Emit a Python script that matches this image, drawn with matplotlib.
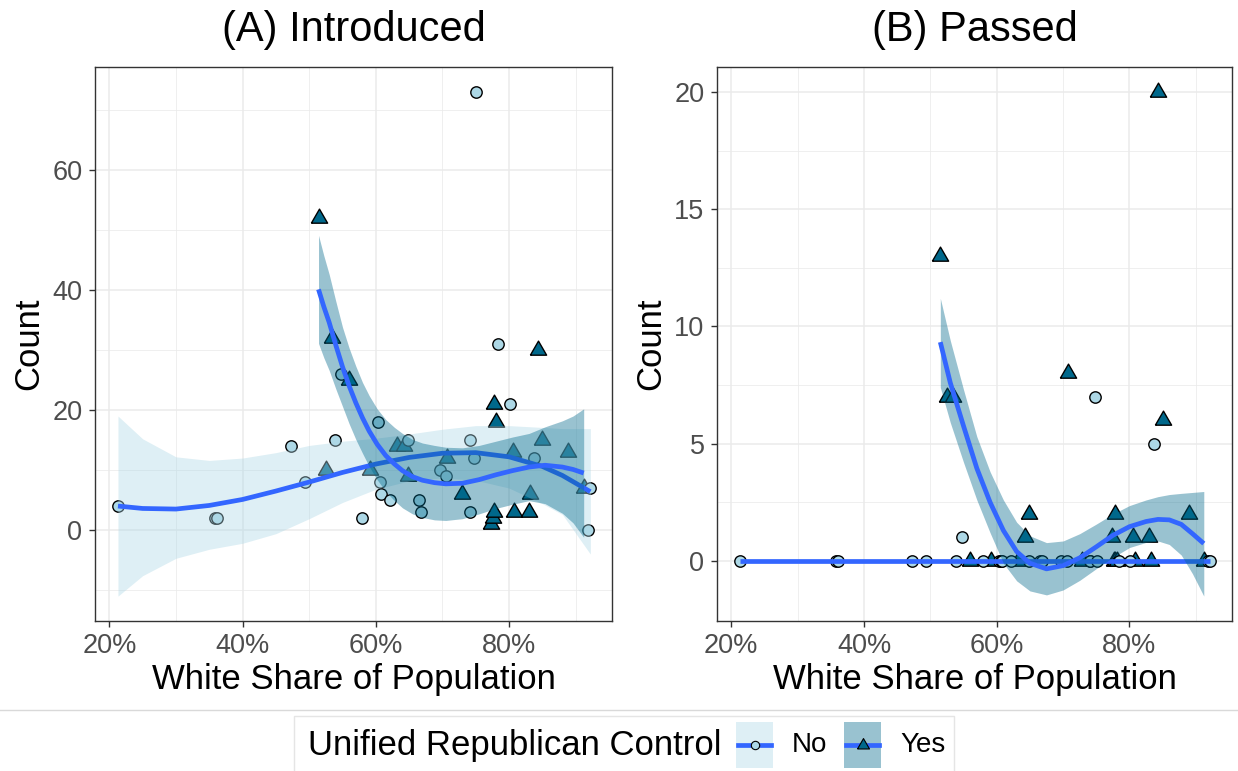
import math
import matplotlib.pyplot as plt
from matplotlib.patches import Rectangle
from matplotlib.ticker import FuncFormatter, FixedLocator

plt.rcParams['font.family'] = ['Liberation Sans', 'DejaVu Sans']

# White share of population (%) per state, split by unified Republican control
no_white = [21.3, 35.8, 36.1, 47.2, 49.4, 53.8, 54.7, 57.9, 60.3, 60.6, 60.8, 62.1, 64.9,
            66.5, 66.8, 69.7, 70.6, 74.1, 74.1, 74.8, 75.1, 78.4, 80.1, 83.7, 91.9, 92.2]
no_introduced = [4, 2, 2, 14, 8, 15, 26, 2, 18, 8, 6, 5, 15,
                 5, 3, 10, 9, 15, 3, 12, 73, 31, 21, 12, 0, 7]
no_passed = [0, 0, 0, 0, 0, 0, 1, 0, 0, 0, 0, 0, 0,
             0, 0, 0, 0, 0, 0, 7, 0, 0, 0, 5, 0, 0]

yes_white = [51.4, 52.5, 53.4, 56.0, 59.1, 63.2, 64.2, 64.8, 70.7, 72.9, 77.3, 77.6,
             77.8, 77.8, 78.1, 80.6, 80.8, 83.0, 83.2, 84.3, 85.0, 88.9, 91.2]
yes_introduced = [52, 10, 32, 25, 10, 14, 14, 9, 12, 6, 1, 2,
                  3, 21, 18, 13, 3, 3, 6, 30, 15, 13, 7]
yes_passed = [13, 7, 7, 0, 0, 0, 1, 2, 8, 0, 1, 0,
              0, 2, 0, 1, 0, 1, 0, 20, 6, 2, 0]

# Fitted trends with 95% bands: (A) Introduced
intro_no_x = [21.3, 25, 30, 35, 40, 45, 50, 55, 60, 65, 70, 75, 80, 85, 88, 92.2]
intro_no_fit = [4.0, 3.6, 3.5, 4.1, 5.1, 6.5, 8.0, 9.6, 11.0, 12.1, 12.8, 12.9, 12.2, 10.6, 9.1, 6.4]
intro_no_lo = [-11.0, -7.6, -4.7, -3.2, -2.2, -0.6, 1.9, 4.6, 6.8, 8.2, 8.7, 8.3, 7.0, 4.4, 2.6, -4.0]
intro_no_hi = [19.0, 15.2, 12.2, 11.6, 12.0, 12.9, 14.1, 14.8, 15.3, 16.0, 16.8, 17.4, 17.4, 17.1, 16.9, 16.9]

intro_yes_x = [51.4, 52.2, 53.0, 54.0, 55.0, 56.0, 57.0, 58.0, 59.0, 60.2, 61.5, 62.8, 64.0,
               65.5, 67.0, 68.8, 70.5, 73.0, 75.5, 78.0, 80.5, 83.0, 85.4, 88.0, 89.6, 91.2]
intro_yes_fit = [40.1, 37.2, 34.6, 30.8, 27.2, 24.0, 21.2, 18.7, 16.5, 14.3, 12.4, 11.0, 9.9,
                 8.9, 8.3, 7.9, 7.7, 7.8, 8.4, 9.2, 9.9, 10.5, 10.8, 10.5, 10.1, 9.5]
intro_yes_lo = [31.1, 28.7, 26.6, 23.5, 20.6, 17.7, 15.1, 12.8, 10.6, 8.4, 6.4, 4.9, 3.7,
                2.7, 2.1, 1.7, 1.6, 1.9, 2.7, 3.6, 4.3, 4.9, 4.4, 2.8, 1.2, -1.2]
intro_yes_hi = [49.1, 45.7, 42.6, 38.1, 33.8, 30.3, 27.3, 24.6, 22.4, 20.2, 18.4, 17.1, 16.1,
                15.1, 14.5, 14.1, 13.8, 13.7, 14.1, 14.8, 15.5, 16.1, 17.2, 18.2, 19.0, 20.2]

# Fitted trends with 95% bands: (B) Passed
passed_no_x = [21.3, 92.2]
passed_no_fit = [0.0, 0.0]
passed_no_lo = [0.0, 0.0]
passed_no_hi = [0.0, 0.0]

passed_yes_x = [51.5, 53.0, 55.0, 57.0, 59.0, 61.0, 63.0, 65.0, 67.5, 70.0, 72.5, 75.0,
                77.5, 80.0, 82.5, 84.3, 86.0, 87.8, 89.5, 91.2]
passed_yes_fit = [9.33, 7.6, 5.75, 3.95, 2.5, 1.3, 0.4, -0.1, -0.34, -0.2, 0.13, 0.6,
                  1.09, 1.46, 1.68, 1.77, 1.75, 1.56, 1.16, 0.74]
passed_yes_lo = [7.4, 5.9, 4.2, 2.6, 1.2, -0.1, -0.85, -1.28, -1.45, -1.24, -0.83, -0.33,
                 0.15, 0.57, 0.79, 0.85, 0.7, 0.25, -0.55, -1.5]
passed_yes_hi = [11.2, 9.4, 7.3, 5.3, 3.8, 2.6, 1.65, 1.07, 0.78, 0.85, 1.16, 1.57,
                 2.0, 2.36, 2.6, 2.74, 2.83, 2.88, 2.92, 2.96]

groups = ['No', 'Yes']
panel_titles = ['(A) Introduced', '(B) Passed']

point_fill = {'No': '#ADD8E6', 'Yes': '#00688B'}
band_color = {'No': '#ADD8E6', 'Yes': '#00688B'}
smooth_color = '#3366FF'


def triangle_marker():
    h = math.sqrt(3) / 3
    return [(-1, -h), (1, -h), (0, 2 * h), (-1, -h)]


W, H = 1238, 771
fig = plt.figure(figsize=(W / 100, H / 100), dpi=100)

panels = [
    {'title': panel_titles[0],
     'points': {'No': (no_white, no_introduced), 'Yes': (yes_white, yes_introduced)},
     'trend': {'No': (intro_no_x, intro_no_fit, intro_no_lo, intro_no_hi),
               'Yes': (intro_yes_x, intro_yes_fit, intro_yes_lo, intro_yes_hi)},
     'ylim': (-15.1, 77.1), 'major': [0, 20, 40, 60], 'minor': [-10, 10, 30, 50, 70],
     'rect': [95, 612]},
    {'title': panel_titles[1],
     'points': {'No': (no_white, no_passed), 'Yes': (yes_white, yes_passed)},
     'trend': {'No': (passed_no_x, passed_no_fit, passed_no_lo, passed_no_hi),
               'Yes': (passed_yes_x, passed_yes_fit, passed_yes_lo, passed_yes_hi)},
     'ylim': (-2.55, 21.05), 'major': [0, 5, 10, 15, 20], 'minor': [2.5, 7.5, 12.5, 17.5],
     'rect': [717, 1232]},
]

top_px, bottom_px = 67.3, 620.7
tri = triangle_marker()

for p in panels:
    x0, x1 = p['rect']
    ax = fig.add_axes([x0 / W, 1 - bottom_px / H, (x1 - x0) / W, (bottom_px - top_px) / H])
    ax.set_xlim(17.85, 95.45)
    ax.set_ylim(*p['ylim'])

    ax.xaxis.set_major_locator(FixedLocator([20, 40, 60, 80]))
    ax.xaxis.set_minor_locator(FixedLocator([30, 50, 70, 90]))
    ax.yaxis.set_major_locator(FixedLocator(p['major']))
    ax.yaxis.set_minor_locator(FixedLocator(p['minor']))
    ax.xaxis.set_major_formatter(FuncFormatter(lambda v, pos: f'{v:.0f}%'))
    ax.yaxis.set_major_formatter(FuncFormatter(lambda v, pos: f'{v:g}'))

    ax.grid(True, which='major', color='#EBEBEB', linewidth=1.1, zorder=0)
    ax.grid(True, which='minor', color='#EBEBEB', linewidth=0.55, zorder=0)
    ax.set_axisbelow(True)
    ax.tick_params(which='major', length=4, width=1.0, color='#333333',
                   labelsize=19.5, labelcolor='#4D4D4D', pad=5)
    ax.tick_params(which='minor', length=0)
    for s in ax.spines.values():
        s.set_color('#333333')
        s.set_linewidth(1.0)

    # points: triangles first, circles over them
    xs, ys = p['points']['Yes']
    ax.scatter(xs, ys, marker=tri, s=13.5 ** 2, facecolor=point_fill['Yes'],
               edgecolor='black', linewidth=1.0, zorder=2)
    xs, ys = p['points']['No']
    ax.scatter(xs, ys, marker='o', s=8.2 ** 2, facecolor=point_fill['No'],
               edgecolor='black', linewidth=1.0, zorder=2)

    # trend line with confidence band, one group after the other
    for k, g in enumerate(groups):
        tx, fit, lo, hi = p['trend'][g]
        ax.fill_between(tx, lo, hi, color=band_color[g], alpha=0.4, linewidth=0,
                        zorder=3 + 2 * k)
        ax.plot(tx, fit, color=smooth_color, linewidth=3.4, zorder=4 + 2 * k,
                solid_capstyle='butt', solid_joinstyle='round')

    ax.set_title(p['title'], fontsize=30, pad=19)
    ax.set_xlabel('White Share of Population', fontsize=25, labelpad=3)
    ax.set_ylabel('Count', fontsize=25, labelpad=5)

# legend strip drawn in pixel coordinates
lg = fig.add_axes([0, 0, 1, 1], zorder=-1)
lg.set_xlim(0, W)
lg.set_ylim(H, 0)
lg.axis('off')
lg.plot([0, W], [709.5, 709.5], color='#D9D9D9', linewidth=1.0)
lg.plot([294, 294, 954, 954], [H, 716, 716, H], color='#E5E5E5', linewidth=1.0)
lg.text(308, 745, 'Unified Republican Control', fontsize=25, va='center', ha='left')

key_left = {'No': 736, 'Yes': 844}
for g in groups:
    kx = key_left[g]
    lg.add_patch(Rectangle((kx, 722), 37, 46, facecolor=band_color[g], alpha=0.4,
                           edgecolor='none'))
    lg.plot([kx + 2, kx + 35], [745, 745], color=smooth_color, linewidth=3.4)
    if g == 'No':
        lg.scatter([kx + 18.5], [745], marker='o', s=6 ** 2, facecolor=point_fill[g],
                   edgecolor='black', linewidth=0.8, zorder=5)
    else:
        lg.scatter([kx + 18.5], [745], marker=tri, s=10 ** 2, facecolor=point_fill[g],
                   edgecolor='black', linewidth=0.8, zorder=5)
    lg.text(kx + 56, 745, g, fontsize=20, va='center', ha='left')

fig.savefig('out.png', dpi=100)
